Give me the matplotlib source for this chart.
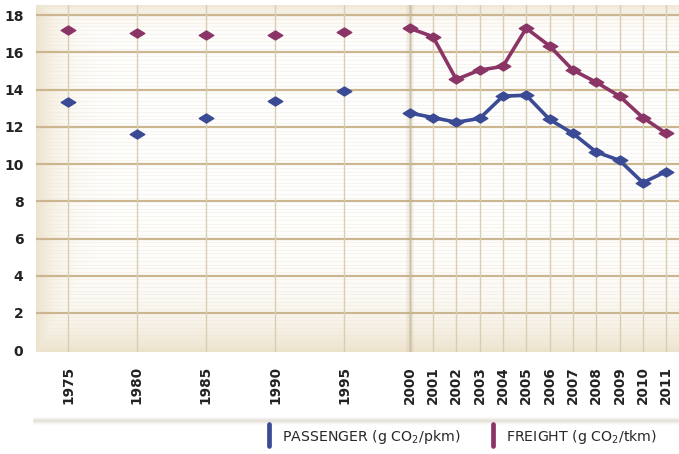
import numpy as np
import matplotlib.pyplot as plt
from matplotlib.path import Path

# --- data ---
years = ['1975', '1980', '1985', '1990', '1995',
         '2000', '2001', '2002', '2003', '2004', '2005',
         '2006', '2007', '2008', '2009', '2010', '2011']
passenger = [13.35, 11.6, 12.5, 13.4, 13.95,
             12.75, 12.5, 12.25, 12.45, 13.65, 13.7,
             12.4, 11.65, 10.65, 10.2, 9.0, 9.6]
freight = [17.2, 17.05, 16.95, 16.95, 17.1,
           17.3, 16.85, 14.55, 15.05, 15.25, 17.3,
           16.35, 15.05, 14.4, 13.65, 12.5, 11.65]
yticks = [0, 2, 4, 6, 8, 10, 12, 14, 16, 18]

# x layout: 5-year steps are wider, yearly steps after 2000
xpos = [0, 2.95, 5.9, 8.88, 11.85] + [14.65 + i for i in range(12)]
n_early = 5

c_pass = '#3b4a94'
c_frt = '#8b3566'
c_grid = '#cbb690'
c_vgrid = '#dacdb2'

fig = plt.figure(figsize=(6.79, 4.54), dpi=100)
ax = fig.add_axes([36 / 679, 1 - 352 / 454, 1 - 36 / 679, 347 / 454])
ax.set_xlim(-1.37, 26.2)
ax.set_ylim(-0.1, 18.55)

# beige vignette background
h, w = 200, 400
yy, xx = np.mgrid[0:h, 0:w]
fx = xx / (w - 1)
fy = yy / (h - 1)
amt = np.maximum.reduce([np.exp(-fx / 0.035), np.exp(-(1 - fy) / 0.1),
                         np.exp(-fy / 0.03) * 0.8])
edge = np.array([0.93, 0.89, 0.80])
img = 1 - amt[..., None] * (1 - edge)
ax.imshow(img, extent=[-1.37, 26.2, -0.1, 18.55], origin='upper',
          aspect='auto', zorder=0)

# faint horizontal stripes
for yv in np.arange(0.2, 18.5, 0.2):
    ax.axhline(yv, color='#efe7d6', lw=0.6, alpha=0.5, zorder=1)

# grid
for yv in yticks[1:]:
    ax.axhline(yv, color=c_grid, lw=1.6, zorder=2)
for xv in xpos:
    ax.axvline(xv, color=c_vgrid, lw=1.0, zorder=2)
# section divider at 2000 with soft shadow
for k, a in zip([6, 4, 2], [0.08, 0.12, 0.2]):
    ax.axvline(xpos[n_early], color='#b8a888', lw=k, alpha=a, zorder=2)

# flattened diamond marker
diamond = Path([(-1, 0), (0, 0.62), (1, 0), (0, -0.62), (-1, 0)],
               [Path.MOVETO, Path.LINETO, Path.LINETO, Path.LINETO, Path.CLOSEPOLY])

for vals, col in [(passenger, c_pass), (freight, c_frt)]:
    ax.plot(xpos[:n_early], vals[:n_early], ls='none', marker=diamond,
            ms=10.5, color=col, zorder=4)
    ax.plot(xpos[n_early:], vals[n_early:], ls='-', lw=2.6, marker=diamond,
            ms=10.5, color=col, zorder=4, solid_joinstyle='round')

ax.set_yticks(yticks)
ax.set_yticklabels([str(v) for v in yticks], fontsize=10, fontweight='bold',
                   color='#222222')
ax.set_xticks(xpos)
ax.set_xticklabels(years, rotation=90, fontsize=9.8, fontweight='bold',
                   color='#222222')
ax.tick_params(length=0, pad=10)
ax.tick_params(axis='y', pad=9)
for s in ax.spines.values():
    s.set_visible(False)

# soft shadow band below the labels
for i, a in enumerate([0.05, 0.1, 0.16, 0.22, 0.14, 0.08, 0.04]):
    yf = 1 - (418 + i) / 454
    fig.add_artist(plt.Line2D([0.05, 1.0], [yf, yf], color='#a89a80',
                              lw=1.2, alpha=a))

# legend
for xp, col, label in [(269, c_pass, 'PASSENGER (g CO$_2$/pkm)'),
                       (493, c_frt, 'FREIGHT (g CO$_2$/tkm)')]:
    fig.add_artist(plt.Line2D([xp / 679, xp / 679], [1 - 424 / 454, 1 - 446 / 454],
                              color=col, lw=3.4, solid_capstyle='round'))
    fig.text((xp + 13) / 679, 1 - 437 / 454, label, fontsize=10.2,
             family='DejaVu Sans', color='#2a2a2a', va='center', ha='left')

fig.savefig('out.png', dpi=100)
